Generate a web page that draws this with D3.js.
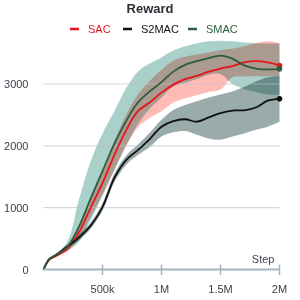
<!DOCTYPE html>
<html>
<head>
<meta charset="utf-8">
<script src="https://cdn.jsdelivr.net/npm/d3@7"></script>
<style>
  body { margin: 0; background: #fff; }
  svg { display: block; font-family: "Liberation Sans", Arial, sans-serif; }
</style>
</head>
<body>
<script>
// steps: 0, 50k, then every 100k up to 2M
const steps = [0, 50000].concat(d3.range(1, 21).map(k => k * 100000));

const sacMean  = [0, 160, 215, 330, 600, 1000, 1395, 1850, 2250, 2560, 2700, 2860, 2990, 3080, 3130, 3200, 3250, 3290, 3350, 3370, 3350, 3300];
const sacLow   = [0, 140, 190, 290, 500, 850, 1200, 1620, 2000, 2300, 2450, 2560, 2700, 2770, 2820, 2870, 2910, 3110, 3120, 3125, 3125, 3120];
const sacHigh  = [0, 175, 240, 380, 700, 1150, 1600, 2080, 2500, 2830, 3050, 3230, 3380, 3440, 3480, 3510, 3550, 3570, 3610, 3660, 3690, 3660];

const s2macMean = [0, 170, 225, 370, 515, 710, 1010, 1480, 1770, 1930, 2110, 2310, 2400, 2430, 2390, 2460, 2530, 2570, 2575, 2620, 2730, 2760];
const s2macLow  = [0, 160, 210, 340, 470, 660, 950, 1410, 1690, 1850, 1980, 2150, 2220, 2240, 2180, 2120, 2100, 2150, 2200, 2260, 2310, 2390];
const s2macHigh = [0, 180, 240, 400, 560, 760, 1070, 1550, 1840, 2020, 2210, 2420, 2580, 2660, 2720, 2780, 2830, 2880, 2950, 3040, 3110, 3125];

const smacMean = [0, 170, 230, 360, 690, 1150, 1590, 2030, 2400, 2700, 2880, 3030, 3200, 3310, 3370, 3420, 3460, 3410, 3300, 3250, 3235, 3245];
const smacLow  = [0, 160, 220, 300, 450, 800, 1200, 1600, 2000, 2350, 2600, 2780, 2960, 3020, 3080, 3150, 3160, 3000, 2920, 2870, 2830, 2820];
const smacHigh = [0, 180, 240, 440, 1130, 1750, 2200, 2560, 2930, 3200, 3330, 3430, 3540, 3610, 3660, 3690, 3700, 3690, 3670, 3660, 3655, 3655];

const yTicks = [0, 1000, 2000, 3000];
const xTicks = [500000, 1000000, 1500000, 2000000];
const xTickLabels = ["500k", "1M", "1.5M", "2M"];

const series = [
  { name: "SAC",   mean: sacMean,   low: sacLow,   high: sacHigh,   line: "#e8141a", band: "#ffbcb7" },
  { name: "S2MAC", mean: s2macMean, low: s2macLow, high: s2macHigh, line: "#111111", band: "#9aabac" },
  { name: "SMAC",  mean: smacMean,  low: smacLow,  high: smacHigh,  line: "#2a5e3c", band: "#aad1c9" }
];

const width = 300, height = 300;

const svg = d3.select("body").append("svg")
    .attr("width", width)
    .attr("height", height);

const x = d3.scaleLinear().domain([0, 2000000]).range([43.5, 279.5]);
const y = d3.scaleLinear().domain([0, 3000]).range([269.5, 84]);

// title
svg.append("text")
    .attr("x", 150).attr("y", 12.5)
    .attr("text-anchor", "middle")
    .style("font-size", "13px").style("font-weight", "bold")
    .style("fill", "#2b2f36")
    .text("Reward");

// legend
const legendPos = [70, 123, 188];
series.forEach(function(s, i) {
  const g = svg.append("g").attr("transform", "translate(" + legendPos[i] + ",29)");
  g.append("line").attr("x1", 0).attr("x2", 9).attr("y1", 0).attr("y2", 0)
      .style("stroke", s.line).style("stroke-width", 2.5);
  g.append("text").attr("x", 18).attr("y", 4)
      .style("font-size", "11px").style("fill", s.line)
      .text(s.name);
});

const curve = d3.curveCatmullRom.alpha(0.5);

const area = d3.area()
    .x(function(d) { return x(d.step); })
    .y0(function(d) { return y(d.low); })
    .y1(function(d) { return y(d.high); })
    .curve(curve);

const line = d3.line()
    .x(function(d) { return x(d.step); })
    .y(function(d) { return y(d.mean); })
    .curve(curve);

function rows(s) {
  return steps.map(function(st, i) {
    return { step: st, mean: s.mean[i], low: s.low[i], high: s.high[i] };
  });
}

// bands (SMAC under SAC under S2MAC)
const bandOrder = [2, 0, 1];
bandOrder.forEach(function(i) {
  const s = series[i];
  svg.append("path")
      .datum(rows(s))
      .attr("d", area)
      .style("fill", s.band)
      .style("mix-blend-mode", "multiply");
});

// grid lines
yTicks.filter(function(t) { return t > 0; }).forEach(function(t) {
  svg.append("line")
      .attr("x1", x(0)).attr("x2", x(2000000))
      .attr("y1", y(t)).attr("y2", y(t))
      .style("stroke", "#b8c0c8").style("stroke-width", 1.2)
      .style("opacity", 0.6);
});

// mean lines and end dots
series.forEach(function(s) {
  svg.append("path")
      .datum(rows(s))
      .attr("d", line)
      .style("fill", "none")
      .style("stroke", s.line)
      .style("stroke-width", 1.8);
  svg.append("circle")
      .attr("cx", x(steps[steps.length - 1]))
      .attr("cy", y(s.mean[s.mean.length - 1]))
      .attr("r", 2.8)
      .style("fill", s.line);
});

// x axis line and ticks
svg.append("line")
    .attr("x1", x(0)).attr("x2", x(2000000))
    .attr("y1", y(0)).attr("y2", y(0))
    .style("stroke", "#a6b4bd").style("stroke-width", 2);

xTicks.forEach(function(t, i) {
  svg.append("line")
      .attr("x1", x(t)).attr("x2", x(t))
      .attr("y1", y(0) - 5).attr("y2", y(0) + 5.5)
      .style("stroke", "#a6b4bd").style("stroke-width", 1.5);
  svg.append("text")
      .attr("x", x(t)).attr("y", 292.5)
      .attr("text-anchor", "middle")
      .style("font-size", "11px").style("fill", "#3a3f4a")
      .text(xTickLabels[i]);
});

yTicks.forEach(function(t) {
  svg.append("text")
      .attr("x", 28.5).attr("y", y(t) + 4)
      .attr("text-anchor", "end")
      .style("font-size", "11px").style("fill", "#3a3f4a")
      .text(t);
});

svg.append("text")
    .attr("x", 274.5).attr("y", 263)
    .attr("text-anchor", "end")
    .style("font-size", "11px").style("fill", "#3a3f4a")
    .text("Step");
</script>
</body>
</html>
